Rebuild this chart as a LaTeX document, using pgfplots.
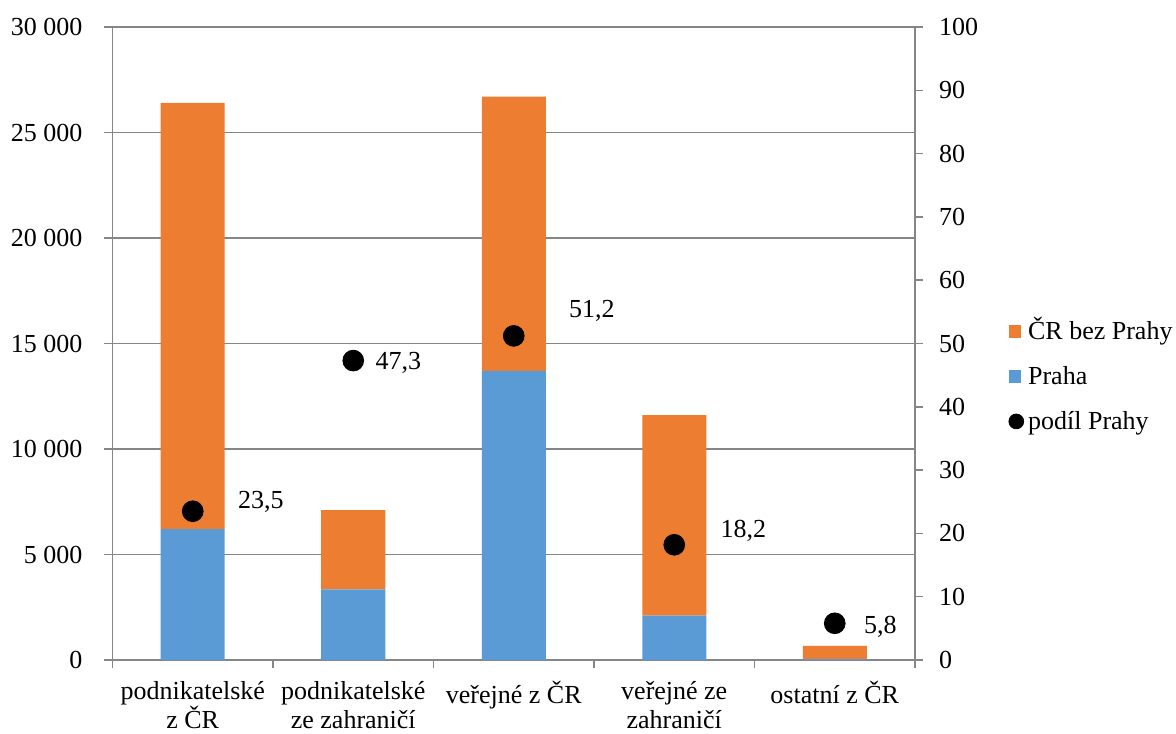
\documentclass[border=0pt]{standalone}
\usepackage{pgfplots}
\pgfplotsset{compat=1.18}
\usepackage{fontspec}
\setmainfont{Liberation Serif}
\definecolor{oranzova}{HTML}{ED7D31}
\definecolor{modra}{HTML}{5B9BD5}
\definecolor{osa}{HTML}{868686}
\newcommand{\pismo}{\fontsize{13}{14.5}\selectfont}

\begin{document}
\pismo
\begin{tikzpicture}
\useasboundingbox (-56.25pt,-36.5pt) rectangle (531.75pt,330pt);
% sloupce: Praha + CR bez Prahy (levá osa)
\begin{axis}[
  at={(0,0)}, anchor=south west,
  scale only axis, width=401.25pt, height=316.5pt,
  xmin=-0.5, xmax=4.5, ymin=0, ymax=30000,
  enlarge x limits=false, scaled y ticks=false,
  ybar stacked, bar width=32pt,
  axis x line*=bottom, axis y line*=left,
  axis line style={osa, line width=0.75pt, -},
  xtick={-0.5,0.5,...,4.5}, x tick label as interval,
  xticklabels={{podnikatelské\\z ČR},{podnikatelské\\ze zahraničí},{veřejné z ČR},{veřejné ze\\zahraničí},{ostatní z ČR}},
  xticklabel style={align=center, font=\pismo, text depth=0pt, yshift=-2pt},
  ytick={0,5000,...,30000},
  yticklabels={0,5 000,10 000,15 000,20 000,25 000,30 000},
  yticklabel style={font=\pismo, xshift=-6.5pt},
  ymajorgrids, grid style={osa, line width=0.75pt},
  tick style={osa, line width=0.75pt},
  tick align=outside, major tick length=4pt,
]
\addplot[fill=modra, draw=none] coordinates {(0,6200) (1,3350) (2,13700) (3,2100) (4,40)};
\addplot[fill=oranzova, draw=none] coordinates {(0,20200) (1,3750) (2,13000) (3,9500) (4,625)};
\end{axis}
% podil Prahy (pravá osa)
\begin{axis}[
  at={(0,0)}, anchor=south west,
  scale only axis, width=401.25pt, height=316.5pt,
  xmin=-0.5, xmax=4.5, ymin=0, ymax=100,
  axis x line=none, axis y line*=right,
  axis line style={osa, line width=0.75pt, -},
  ytick={0,10,...,100},
  yticklabels={0,10,20,30,40,50,60,70,80,90,100},
  yticklabel style={font=\pismo, xshift=3.5pt},
  tick style={osa, line width=0.75pt},
  tick align=outside, major tick length=4pt,
  legend style={draw=none, fill=none, at={(1.116,0.448)}, anchor=west,
    inner sep=0pt, row sep=10.5pt, font=\pismo,
    nodes={inner ysep=0pt, text height=10pt, text depth=2pt}},
  legend cell align=left,
]
\addlegendimage{legend image code/.code={\fill[oranzova] (0pt,-2.8pt) rectangle (5.6pt,2.8pt);}}
\addlegendentry{ČR bez Prahy}
\addlegendimage{legend image code/.code={\fill[modra] (0pt,-2.8pt) rectangle (5.6pt,2.8pt);}}
\addlegendentry{Praha}
\addplot[only marks, mark=*, mark size=5.2pt, black,
  point meta=explicit symbolic, nodes near coords,
  visualization depends on={\thisrow{dx} \as \dx},
  visualization depends on={\thisrow{dy} \as \dy},
  every node near coord/.style={anchor=west, inner sep=0pt, text depth=0pt,
    xshift=\dx pt, yshift=\dy pt, black, font=\pismo},
  legend image code/.code={\fill[black] (3.5pt,0pt) circle (3.7pt);}]
  table[x=x, y=y, meta=lbl] {
x y    dx   dy   lbl
0 23.5 22.5 5.8  23,5
1 47.3 11   0    47,3
2 51.2 27.5 13.5 51,2
3 18.2 23   8    18,2
4 5.8  14.5 -1   5,8
};
\addlegendentry{podíl Prahy}
\end{axis}
\end{tikzpicture}
\end{document}
